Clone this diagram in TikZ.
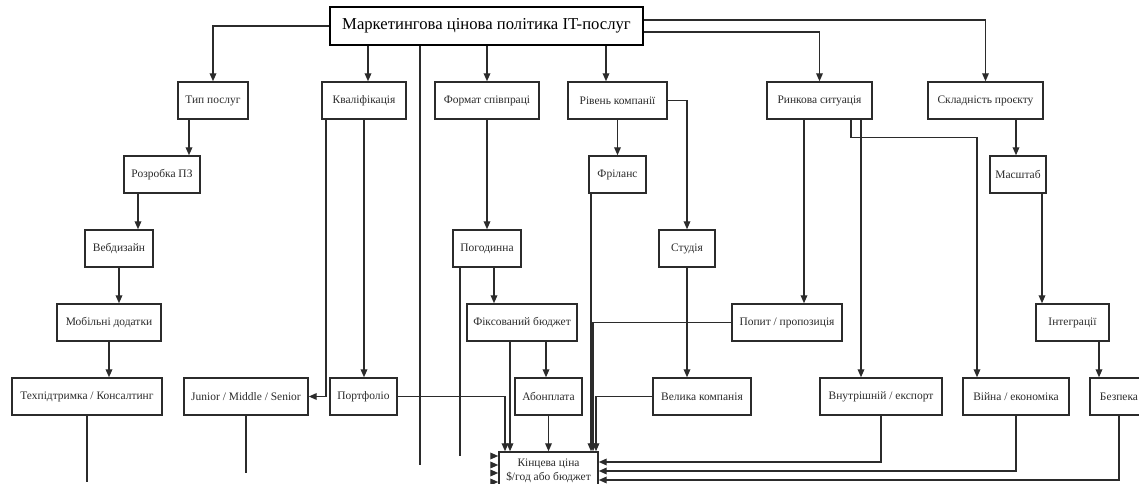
\documentclass[tikz,border=0pt]{standalone}
\usepackage{fontspec}
\setmainfont{Liberation Serif}
\usepackage{tikz}
\usetikzlibrary{positioning, arrows.meta, calc}
\definecolor{inkGrey}{HTML}{2B2B2B}
\tikzset{
  factor/.style={rectangle, draw=inkGrey, line width=1.1pt, fill=white,
    align=center, minimum height=27.75pt, inner sep=2pt, text=inkGrey,
    font=\fontsize{8.6}{10.5}\selectfont},
  rootbox/.style={factor, draw=black, line width=2.2pt, text=black,
    minimum height=28.5pt, font=\fontsize{12.5}{14}\selectfont},
  boxw/.style={minimum width=#1*0.75pt},
  link/.style={line width=1pt, inkGrey},
  arrowline/.style={link, -{Triangle[length=6pt, width=5pt]}},
}
\begin{document}
\begin{tikzpicture}[x=0.75pt, y=-0.75pt]
    \useasboundingbox (0,0) rectangle (1139,484);
    \clip (0,0) rectangle (1139,484);
    % root
    \node[rootbox, boxw=313] (root) at (486.5,26)
      {Маркетингова цінова політика IT-послуг};
    % first level
    \node[factor, boxw=70] (tip) at (213,100.5) {Тип послуг};
    \node[factor, boxw=84] (kval) at (364,100.5) {Кваліфікація};
    \node[factor, boxw=104] (format) at (487,100.5) {Формат співпраці};
    \node[factor, boxw=99] (riven) at (617.5,100.5) {Рівень компанії};
    \node[factor, boxw=105] (rynok) at (819.5,100.5) {Ринкова ситуація};
    \node[factor, boxw=115] (sklad) at (985.5,100.5) {Складність проєкту};
    % second level
    \node[factor, boxw=76] (rozr) at (162,174.5) {Розробка ПЗ};
    \node[factor, boxw=57] (frilans) at (617.5,174.5) {Фріланс};
    \node[factor, boxw=56] (masht) at (1018,174.5) {Масштаб};
    % third level
    \node[factor, boxw=68] (veb) at (119,248.5) {Вебдизайн};
    \node[factor, boxw=68] (pogod) at (487,248.5) {Погодинна};
    \node[factor, boxw=56] (stud) at (687,248.5) {Студія};
    % fourth level
    \node[factor, boxw=104] (mob) at (109,322.5) {Мобільні додатки};
    \node[factor, boxw=110] (fix) at (522,322.5) {Фіксований бюджет};
    \node[factor, boxw=110] (popyt) at (787,322.5) {Попит / пропозиція};
    \node[factor, boxw=73] (integr) at (1072.5,322.5) {Інтеграції};
    % fifth level
    \node[factor, boxw=150] (tech) at (87,396.5) {Техпідтримка / Консалтинг};
    \node[factor, boxw=124] (junior) at (246,396.5) {Junior / Middle / Senior};
    \node[factor, boxw=67] (portf) at (363.5,396.5) {Портфоліо};
    \node[factor, boxw=67] (abon) at (548.5,396.5) {Абонплата};
    \node[factor, boxw=98] (velyka) at (702,396.5) {Велика компанія};
    \node[factor, boxw=122] (vnutr) at (881,396.5) {Внутрішній / експорт};
    \node[factor, boxw=106] (viina) at (1016,396.5) {Війна / економіка};
    \node[factor, boxw=58] (bezp) at (1119,396.5) {Безпека};
    % result
    \node[factor, boxw=99, minimum height=28.5pt] (final) at (548.5,471)
      {Кінцева ціна\\ \$/год або бюджет};
    % helper points
    \coordinate (rootHi) at ($(root.east)+(0,-6)$);
    \coordinate (rootLo) at ($(root.east)+(0,6)$);
    \coordinate (rootLeg) at ($(root.south)+(-66.5,0)$);
    \coordinate (rivenIn) at ($(riven.north)+(-11.5,0)$);
    \coordinate (kvalIn) at ($(kval.north)+(4,0)$);
    \coordinate (tipOut) at ($(tip.south)+(-24,0)$);
    \coordinate (rozrOut) at ($(rozr.south)+(-24,0)$);
    \coordinate (kvalOut) at ($(kval.south)+(-38,0)$);
    \coordinate (pogodLeg) at ($(pogod.south)+(-27,0)$);
    \coordinate (pogodOut) at ($(pogod.south)+(7,0)$);
    \coordinate (fixLeg) at ($(fix.south)+(-12,0)$);
    \coordinate (fixOut) at ($(fix.south)+(24,0)$);
    \coordinate (frilLeg) at ($(frilans.south)+(-26.5,0)$);
    \coordinate (rynokA) at ($(rynok.south)+(-15.5,0)$);
    \coordinate (rynokB) at ($(rynok.south)+(41.5,0)$);
    \coordinate (rynokC) at ($(rynok.south)+(31.5,0)$);
    \coordinate (viinaIn) at ($(viina.north)+(-39,0)$);
    \coordinate (skladOut) at ($(sklad.south)+(30.5,0)$);
    \coordinate (mashtOut) at ($(masht.south)+(24,0)$);
    \coordinate (integrOut) at ($(integr.south)+(26.5,0)$);
    \coordinate (finPortf) at ($(final.north)+(-43.5,0)$);
    \coordinate (finPopyt) at ($(final.north)+(44.5,0)$);
    \coordinate (finVelyka) at ($(final.north)+(47.5,0)$);
    \coordinate (inA) at ($(final.west)+(0,-15)$);
    \coordinate (inB) at ($(final.west)+(0,-6)$);
    \coordinate (inC) at ($(final.west)+(0,2)$);
    \coordinate (inD) at ($(final.west)+(0,11)$);
    \coordinate (inR1) at ($(final.east)+(0,-9)$);
    \coordinate (inR2) at (final.east);
    \coordinate (inR3) at ($(final.east)+(0,9)$);
    % root to first level
    \draw[arrowline] (root.west) -| (tip.north);
    \draw[arrowline] (kvalIn |- root.south) -- (kvalIn);
    \draw[arrowline] (format.north |- root.south) -- (format.north);
    \draw[arrowline] (rivenIn |- root.south) -- (rivenIn);
    \draw[arrowline] (rootLo) -| (rynok.north);
    \draw[arrowline] (rootHi) -| (sklad.north);
    \draw[link] (rootLeg) -- (rootLeg |- inB);
    % service type chain
    \draw[arrowline] (tipOut) -- (tipOut |- rozr.north);
    \draw[arrowline] (rozrOut) -- (rozrOut |- veb.north);
    \draw[arrowline] (veb.south) -- (veb.south |- mob.north);
    \draw[arrowline] (mob.south) -- (mob.south |- tech.north);
    \draw[link] (tech.south) -- (tech.south |- inD);
    % qualification
    \draw[arrowline] (kvalOut) |- (junior.east);
    \draw[arrowline] (kval.south) -- (kval.south |- portf.north);
    \draw[link] (junior.south) -- (junior.south |- inC);
    \draw[arrowline] (portf.east) -| (finPortf);
    % cooperation format
    \draw[arrowline] (format.south) -- (pogod.north);
    \draw[link] (pogodLeg) -- (pogodLeg |- inA);
    \draw[arrowline] (pogodOut) -- (pogodOut |- fix.north);
    \draw[arrowline] (fixLeg) -- (fixLeg |- final.north);
    \draw[arrowline] (fixOut) -- (fixOut |- abon.north);
    \draw[arrowline] (abon.south) -- (final.north);
    % company level
    \draw[arrowline] (riven.south) -- (frilans.north);
    \draw[arrowline] (riven.east) -| (stud.north);
    \draw[arrowline] (stud.south) -- (stud.south |- velyka.north);
    \draw[arrowline] (frilLeg) -- (frilLeg |- final.north);
    \draw[arrowline] (velyka.west) -| (finVelyka);
    % market situation
    \draw[arrowline] (rynokA) -- (rynokA |- popyt.north);
    \draw[arrowline] (popyt.west) -| (finPopyt);
    \draw[arrowline] (rynokB) -- (rynokB |- vnutr.north);
    \draw[arrowline] (rynokC) -- ++(0,18) -| (viinaIn);
    \draw[arrowline] (vnutr.south) |- (inR1);
    \draw[arrowline] (viina.south) |- (inR2);
    % project complexity
    \draw[arrowline] (skladOut) -- (skladOut |- masht.north);
    \draw[arrowline] (mashtOut) -- (mashtOut |- integr.north);
    \draw[arrowline] (integrOut) -- (integrOut |- bezp.north);
    \draw[arrowline] (bezp.south) |- (inR3);
    % arrow tips on the left side of the result
    \foreach \tipin in {inA, inB, inC, inD}
      \draw[arrowline] ($(\tipin)+(-7.5,0)$) -- (\tipin);
\end{tikzpicture}
\end{document}
